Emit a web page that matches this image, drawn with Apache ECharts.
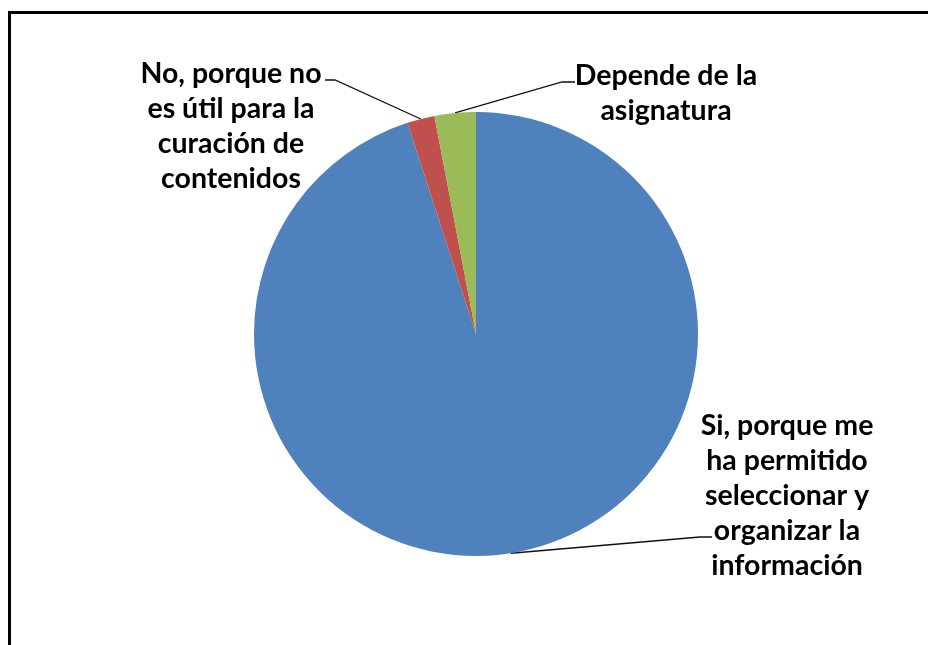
<!DOCTYPE html>
<html><head><meta charset="utf-8">
<script src="https://cdn.jsdelivr.net/npm/echarts@6/dist/echarts.min.js"></script>
<style>html,body{margin:0;padding:0;background:#fff}#c{width:928px;height:645px}</style>
</head><body><div id="c"></div>
<script>
const categories = [
  "Si, porque me\nha permitido\nseleccionar y\norganizar la\ninformación",
  "No, porque no\nes útil para la\ncuración de\ncontenidos",
  "Depende de la\nasignatura"
];
const values = [95, 2, 3];
const colors = ['#4F81BD', '#C0504D', '#9BBB59'];

// label layout (positions only)
const labelPos = [
  {x: 787, y: 408, lineIdx: 3, stub: [-87, -75]},
  {x: 231, y: 56, lineIdx: 0, stub: [104, 94]},
  {x: 666, y: 58, lineIdx: 0, stub: [-104, -91]}
];
const LH = 35;

const chart = echarts.init(document.getElementById('c'), null, {renderer: 'canvas'});
chart.setOption({
  animation: false,
  backgroundColor: '#fff',
  graphic: [{
    type: 'rect', silent: true,
    shape: {x: 9.5, y: 12.5, width: 1000, height: 1000},
    style: {fill: 'none', stroke: '#000', lineWidth: 3}
  }],
  series: [{
    type: 'pie',
    center: [476, 334],
    radius: 222,
    startAngle: 90,
    clockwise: true,
    avoidLabelOverlap: false,
    data: categories.map((c, i) => ({name: c, value: values[i], itemStyle: {color: colors[i]}})),
    itemStyle: {borderWidth: 0},
    label: {
      show: true, position: 'outside', formatter: '{b}',
      fontFamily: 'Lato', fontWeight: 'bold', fontSize: 28.5, lineHeight: LH,
      color: '#000', align: 'center'
    },
    labelLine: {show: true, lineStyle: {color: '#111', width: 1.3}},
    labelLayout: function (p) {
      const L = labelPos[p.dataIndex];
      const a = p.labelLinePoints ? p.labelLinePoints[0] : null;
      const sy = L.y + 24 + L.lineIdx * LH;
      const res = {x: L.x, y: L.y, align: 'center', verticalAlign: 'top'};
      if (a) res.labelLinePoints = [a, [L.x + L.stub[0], sy], [L.x + L.stub[1], sy]];
      return res;
    }
  }]
});
</script>
</body></html>
